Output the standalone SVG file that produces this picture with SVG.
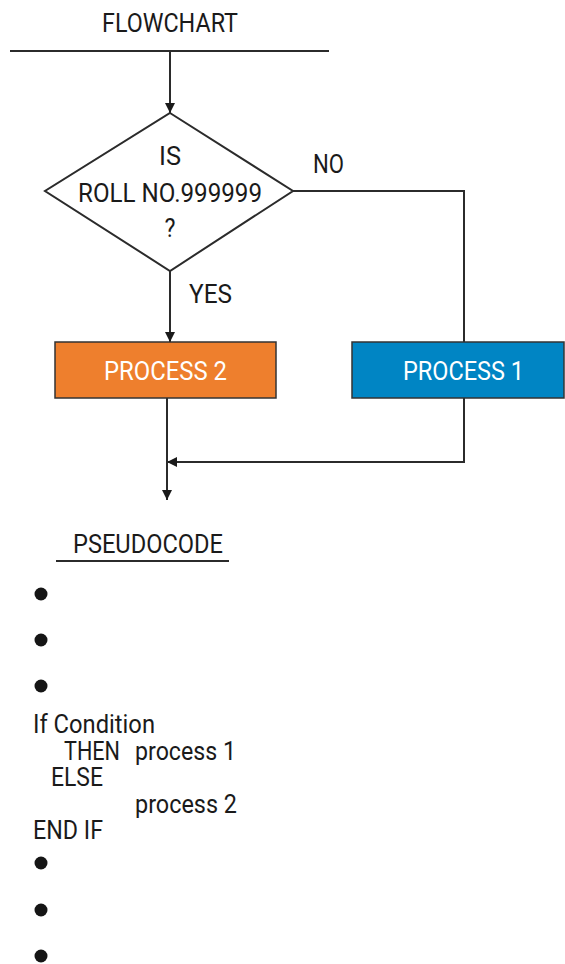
<svg xmlns="http://www.w3.org/2000/svg" width="565" height="964" viewBox="0 0 565 964">
<style>
text{font-family:Roboto,"Liberation Sans",sans-serif;fill:#1a1a1a;}
.t{font-size:25px;}
.w{fill:#ffffff;font-size:26px;}
.ln{stroke:#2b2b2b;stroke-width:2;fill:none;}
.box{stroke:#333;stroke-width:1.5;}
.dot{fill:#151515;}
</style>
<defs>
<marker id="ah" viewBox="0 0 10 10" refX="10" refY="5" markerWidth="10" markerHeight="10" markerUnits="userSpaceOnUse" orient="auto">
<path d="M0,0 L10,5 L0,10 z" fill="#1a1a1a"/>
</marker>
</defs>
<rect width="565" height="964" fill="#ffffff"/>
<g id="title">
<text class="t" x="170" y="32" text-anchor="middle" style="font-size:26px" textLength="136" lengthAdjust="spacingAndGlyphs">FLOWCHART</text>
<line class="ln" x1="10" y1="51" x2="329" y2="51"/>
</g>
<g id="connectors">
<line class="ln" x1="170" y1="51" x2="170" y2="113" marker-end="url(#ah)"/>
<line class="ln" x1="170" y1="271" x2="170" y2="342" marker-end="url(#ah)"/>
<polyline class="ln" points="293,191 464,191 464,342"/>
<polyline class="ln" points="464,398 464,462 167,462" marker-end="url(#ah)"/>
<line class="ln" x1="167" y1="398" x2="167" y2="500" marker-end="url(#ah)"/>
<text class="t" x="313" y="173" textLength="31" lengthAdjust="spacingAndGlyphs">NO</text>
<text class="t" x="189" y="303" textLength="43" lengthAdjust="spacingAndGlyphs">YES</text>
</g>
<g id="decision">
<polygon points="170,113 293,191 170,271 45,191" fill="#ffffff" stroke="#2b2b2b" stroke-width="2"/>
<text class="t" x="170" y="165" text-anchor="middle" textLength="22" lengthAdjust="spacingAndGlyphs">IS</text>
<text class="t" x="170" y="202" text-anchor="middle" textLength="184" lengthAdjust="spacingAndGlyphs">ROLL NO.999999</text>
<text class="t" x="170" y="237" text-anchor="middle" textLength="11" lengthAdjust="spacingAndGlyphs">?</text>
</g>
<g id="process2">
<rect class="box" x="55" y="342" width="221" height="56" fill="#EE7F2D"/>
<text class="w" x="165.5" y="380" text-anchor="middle" textLength="123" lengthAdjust="spacingAndGlyphs">PROCESS 2</text>
</g>
<g id="process1">
<rect class="box" x="352" y="342" width="212" height="56" fill="#0085C4"/>
<text class="w" x="463.5" y="380" text-anchor="middle" textLength="121" lengthAdjust="spacingAndGlyphs">PROCESS 1</text>
</g>
<g id="pseudocode">
<text class="t" x="73" y="553" textLength="150" lengthAdjust="spacingAndGlyphs">PSEUDOCODE</text>
<line class="ln" x1="56" y1="561" x2="229" y2="561"/>
<circle class="dot" cx="41" cy="594" r="6.5"/>
<circle class="dot" cx="41" cy="640" r="6.5"/>
<circle class="dot" cx="41" cy="686" r="6.5"/>
<text class="t" x="33" y="733" textLength="122" lengthAdjust="spacingAndGlyphs">If Condition</text>
<text class="t" x="64" y="760" textLength="56" lengthAdjust="spacingAndGlyphs">THEN</text>
<text class="t" x="135" y="760" textLength="101" lengthAdjust="spacingAndGlyphs">process 1</text>
<text class="t" x="51" y="786" textLength="52" lengthAdjust="spacingAndGlyphs">ELSE</text>
<text class="t" x="135" y="813" textLength="102" lengthAdjust="spacingAndGlyphs">process 2</text>
<text class="t" x="33" y="839" textLength="70" lengthAdjust="spacingAndGlyphs">END IF</text>
<circle class="dot" cx="41" cy="863" r="6.5"/>
<circle class="dot" cx="41" cy="910" r="6.5"/>
<circle class="dot" cx="41" cy="956" r="6.5"/>
</g>
</svg>
